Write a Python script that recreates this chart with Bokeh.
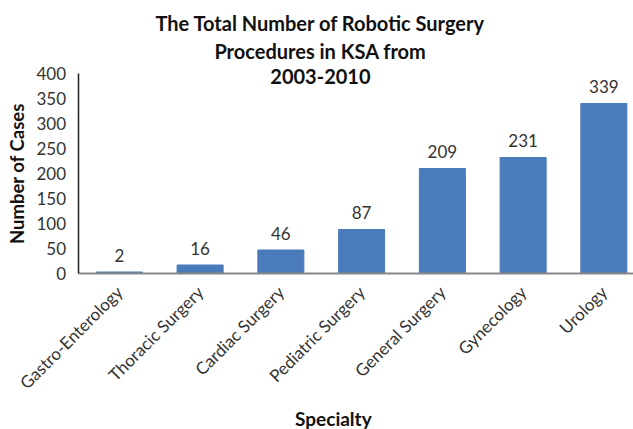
from bokeh.plotting import figure
from bokeh.models import Range1d, Label, FixedTicker, ColumnDataSource
from bokeh.core.properties import value
from bokeh.embed import file_html
from bokeh.resources import INLINE
import math

categories = ["Gastro-Enterology", "Thoracic Surgery", "Cardiac Surgery",
              "Pediatric Surgery", "General Surgery", "Gynecology", "Urology"]
cases = [2, 16, 46, 87, 209, 231, 339]
y_ticks = [0, 50, 100, 150, 200, 250, 300, 350, 400]
title_lines = ["The Total Number of Robotic Surgery", "Procedures in KSA from", "2003-2010"]

FONT = "Lato"
BAR = "#4a7bbb"
TXT = "#333333"

idx = list(range(len(categories)))
src = ColumnDataSource(dict(x=idx, top=cases, lbl=[str(v) for v in cases]))

p = figure(width=633, height=429, output_backend="svg", toolbar_location=None,
           x_range=Range1d(-1.472, 6.367), y_range=Range1d(-313, 545),
           min_border=0)
p.outline_line_color = None
p.grid.grid_line_color = None
p.background_fill_color = "white"
p.border_fill_color = "white"

p.vbar(x="x", top="top", width=0.57, source=src, fill_color=BAR,
       line_color=BAR)
p.text(x="x", y="top", text="lbl", source=src, text_align="center",
       text_baseline="middle", y_offset=-17, text_font=value(FONT),
       text_font_size="17px", text_color=TXT)

# y axis
ya = p.yaxis[0]
ya.fixed_location = -0.5
ya.bounds = (0, 400)
ya.ticker = FixedTicker(ticks=y_ticks)
ya.major_tick_line_color = None
ya.minor_tick_line_color = None
ya.axis_line_color = "#222222"
ya.axis_line_width = 1.5
ya.major_label_text_font = FONT
ya.major_label_text_font_size = "17px"
ya.major_label_text_color = TXT
ya.major_label_standoff = 7
ya.axis_label = "Number of Cases"
ya.axis_label_text_font = FONT
ya.axis_label_text_font_style = "bold"
ya.axis_label_text_font_size = "18.5px"
ya.axis_label_text_color = "#111111"
ya.axis_label_standoff = 5

# x axis
xa = p.xaxis[0]
xa.fixed_location = 0
xa.bounds = (-0.5, 6.367)
xa.ticker = FixedTicker(ticks=idx)
xa.major_label_overrides = {i: c for i, c in zip(idx, categories)}
xa.major_label_orientation = math.pi / 4
xa.major_tick_line_color = None
xa.minor_tick_line_color = None
xa.axis_line_color = "#888888"
xa.axis_line_width = 2
xa.major_label_text_font = FONT
xa.major_label_text_font_size = "17px"
xa.major_label_text_color = TXT
xa.major_label_standoff = 10

# title lines
for line, ty in zip(title_lines, [501, 445, 393]):
    p.add_layout(Label(x=2.49, y=ty, text=line, text_align="center",
                       text_baseline="middle", text_font=FONT,
                       text_font_style="bold", text_font_size="20px",
                       text_color="#111111"))

p.add_layout(Label(x=2.65, y=-291, text="Specialty", text_align="center",
                   text_baseline="middle", text_font=FONT,
                   text_font_style="bold", text_font_size="19px",
                   text_color="#111111"))

open("out.html", "w").write(file_html(p, INLINE))
